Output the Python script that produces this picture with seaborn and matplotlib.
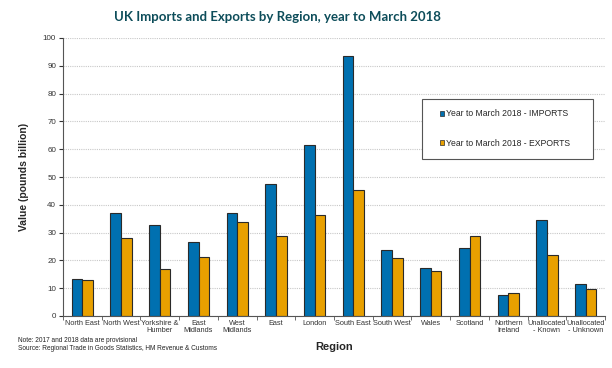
import pandas as pd
import matplotlib
matplotlib.use("Agg")
import matplotlib.pyplot as plt
from matplotlib.patches import Rectangle
import seaborn as sns
import numpy as np

regions = ["North East", "North West", "Yorkshire &\nHumber", "East\nMidlands", "West\nMidlands",
           "East", "London", "South East", "South West", "Wales", "Scotland", "Northern\nIreland",
           "Unallocated\n- Known", "Unallocated\n- Unknown"]
imports = [13.2, 37.1, 32.9, 26.5, 36.9, 47.4, 61.5, 93.4, 23.8, 17.2, 24.5, 7.5, 34.5, 11.4]
exports = [13.0, 28.2, 16.9, 21.2, 33.8, 28.6, 36.5, 45.5, 20.7, 16.2, 28.8, 8.3, 22.1, 9.6]
series = ["Year to March 2018 - IMPORTS", "Year to March 2018 - EXPORTS"]

df = pd.DataFrame({"Region": regions * 2,
                   "Value": imports + exports,
                   "Series": [series[0]] * len(regions) + [series[1]] * len(regions)})

sns.set_style("white")
plt.rcParams["font.family"] = ["Liberation Sans", "DejaVu Sans"]

fig = plt.figure(figsize=(6.12, 3.68), dpi=100)
ax = fig.add_axes([63 / 612, 1 - 316 / 368, (605 - 63) / 612, (316 - 38) / 368])

sns.barplot(data=df, x="Region", y="Value", hue="Series", order=regions, hue_order=series,
            palette=["#0070b0", "#e8a000"], width=0.55, edgecolor="#2a2a2a", linewidth=0.8,
            saturation=1, ax=ax)

ax.set_ylim(0, 100)
ax.set_xlim(-0.5, len(regions) - 0.5)
ax.set_yticks(np.arange(0, 101, 10))
ax.yaxis.grid(True, color="#c8c8c8", linestyle=(0, (1, 1)), linewidth=0.8)
ax.set_axisbelow(True)
for s in ["top", "right"]:
    ax.spines[s].set_visible(False)
for s in ["left", "bottom"]:
    ax.spines[s].set_color("#555555")
    ax.spines[s].set_linewidth(0.8)

ax.tick_params(axis="y", length=3, direction="out", left=True, labelsize=5.8, colors="#333333", pad=2)
ax.tick_params(axis="x", length=0, labelsize=5.3, colors="#333333", pad=3)
ax.set_xticks(np.arange(-0.5, len(regions), 1), minor=True)
ax.tick_params(axis="x", which="minor", length=3, bottom=True, color="#555555")
for lbl in ax.get_xticklabels():
    lbl.set_linespacing(1.0)

ax.set_ylabel("Value (pounds billion)", fontsize=7.5, fontweight="bold", labelpad=10)
ax.set_xlabel("Region", fontsize=8, fontweight="bold", labelpad=6)

# legend frame drawn separately so its padding can match the reference
ax.add_patch(Rectangle((422 / 612, 1 - 159 / 368), 171 / 612, 60 / 368,
                       transform=fig.transFigure, facecolor="white", clip_on=False,
                       edgecolor="#555555", linewidth=0.8, zorder=4))
leg = ax.legend(loc="center left", bbox_to_anchor=((440 - 63) / 542, (316 - 128.5) / 278),
                frameon=False, fontsize=6.2, handlelength=0.5, handleheight=0.5,
                labelspacing=2.4, borderpad=0, handletextpad=0.2, borderaxespad=0)
leg.set_zorder(6)
for h in leg.legend_handles:
    h.set_linewidth(0.5)

fig.text(277.5 / 612, 1 - 17 / 368, "UK Imports and Exports by Region, year to March 2018",
         ha="center", va="center", fontsize=9.5, fontweight="bold", color="#0d4d5a",
         family=["Lato", "DejaVu Sans"])
fig.text(18 / 612, 1 - 341 / 368, "Note: 2017 and 2018 data are provisional", fontsize=4.7,
         color="#222222", va="center")
fig.text(18 / 612, 1 - 348.5 / 368, "Source: Regional Trade in Goods Statistics, HM Revenue & Customs",
         fontsize=4.7, color="#222222", va="center")

fig.savefig("out.png", dpi=100)
